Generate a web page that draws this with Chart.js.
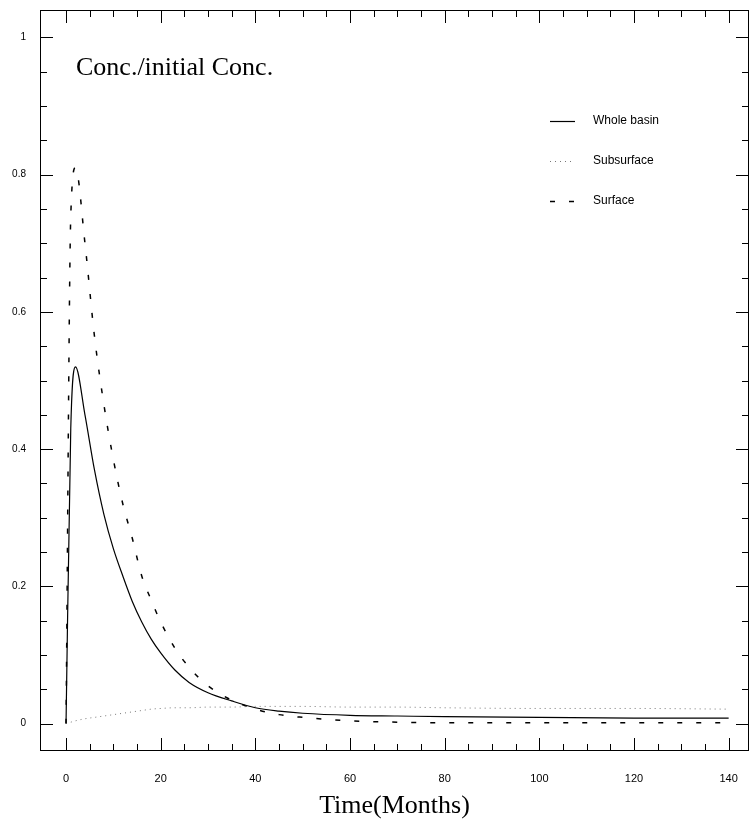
<!DOCTYPE html>
<html>
<head>
<meta charset="utf-8">
<title>Conc./initial Conc.</title>
<script src="https://cdn.jsdelivr.net/npm/chart.js@4.4.1/dist/chart.umd.min.js"></script>
<style>
    html, body { margin: 0; padding: 0; background: #fff; }
    #wrap { width: 750px; height: 824px; position: relative; }
</style>
</head>
<body>
<div id="wrap"><canvas id="concChart"></canvas></div>
<script>
const months = [0, 1, 2, 4, 6, 8, 10, 12, 14, 16, 18, 20, 23, 26, 30, 35, 40, 45, 50, 60, 70, 80, 100, 120, 140];

// Concentration / initial concentration
const wholeBasin = [0, 0.43, 0.52, 0.45, 0.37, 0.305, 0.255, 0.215, 0.178, 0.148, 0.123, 0.103, 0.078, 0.06, 0.045, 0.033, 0.023, 0.018, 0.015, 0.012, 0.011, 0.010, 0.009, 0.008, 0.008];
const subsurface = [0, 0.002, 0.004, 0.007, 0.009, 0.011, 0.013, 0.015, 0.017, 0.019, 0.021, 0.022, 0.023, 0.023, 0.024, 0.024, 0.025, 0.025, 0.025, 0.024, 0.024, 0.023, 0.022, 0.022, 0.021];
const surface = [0, 0.74, 0.81, 0.70, 0.565, 0.465, 0.385, 0.32, 0.27, 0.215, 0.18, 0.148, 0.11, 0.082, 0.055, 0.034, 0.021, 0.013, 0.009, 0.004, 0.002, 0.001, 0.001, 0.001, 0.001];

const seriesLabels = ['Whole basin', 'Subsurface', 'Surface'];

// Axis ticks
const xTicks = [0, 20, 40, 60, 80, 100, 120, 140];
const yTicks = [0, 0.2, 0.4, 0.6, 0.8, 1];

const plotTitle = 'Conc./initial Conc.';
const xTitle = 'Time(Months)';

function toPoints(values) {
    return months.map((m, i) => ({ x: m, y: values[i] }));
}

// Frame, inward ticks on all four sides, inner title and legend
const frameAndLegend = {
    id: 'frameAndLegend',
    afterDraw(chart) {
        const ctx = chart.ctx;
        const area = chart.chartArea;
        const xs = chart.scales.x;
        const ys = chart.scales.y;
        const major = 13, minor = 7;

        ctx.save();
        ctx.strokeStyle = '#000';
        ctx.lineWidth = 1;
        ctx.strokeRect(area.left + 0.5, area.top + 0.5, area.right - area.left - 1, area.bottom - area.top - 1);

        ctx.beginPath();
        for (let m = 0; m <= 140; m += 5) {
            const px = Math.round(xs.getPixelForValue(m)) + 0.5;
            const len = xTicks.includes(m) ? major : minor;
            ctx.moveTo(px, area.bottom);
            ctx.lineTo(px, area.bottom - len);
            ctx.moveTo(px, area.top);
            ctx.lineTo(px, area.top + len);
        }
        for (let k = 0; k <= 20; k++) {
            const v = k * 0.05;
            const py = Math.round(ys.getPixelForValue(v)) + 0.5;
            const len = (k % 4 === 0) ? major : minor;
            ctx.moveTo(area.left, py);
            ctx.lineTo(area.left + len, py);
            ctx.moveTo(area.right, py);
            ctx.lineTo(area.right - len, py);
        }
        ctx.stroke();

        // Inner title
        ctx.fillStyle = '#000';
        ctx.font = '26px "Liberation Serif", "Times New Roman", serif';
        ctx.textBaseline = 'alphabetic';
        ctx.textAlign = 'left';
        ctx.fillText(plotTitle, area.left + 36, area.top + 65);

        // Legend
        const lx = area.left + 510;
        const ly = area.top + 111;
        ctx.font = '12px "Liberation Sans", Arial, sans-serif';
        ctx.textBaseline = 'middle';
        chart.data.datasets.forEach((ds, i) => {
            const y = ly + i * 40;
            ctx.beginPath();
            ctx.strokeStyle = ds.borderColor;
            ctx.lineWidth = ds.borderWidth;
            ctx.setLineDash(ds.borderDash || []);
            ctx.moveTo(lx, y + 0.5);
            ctx.lineTo(lx + 25, y + 0.5);
            ctx.stroke();
            ctx.setLineDash([]);
            ctx.fillStyle = '#000';
            ctx.fillText(ds.label, lx + 43, y);
        });
        ctx.restore();
    }
};

function noEdgePadding(scale) {
    scale.paddingTop = 0;
    scale.paddingBottom = 0;
    scale.paddingLeft = 0;
    scale.paddingRight = 0;
}

const chart = new Chart(document.getElementById('concChart'), {
    type: 'line',
    data: {
        datasets: [
            {
                label: seriesLabels[0],
                data: toPoints(wholeBasin),
                borderColor: '#000',
                borderWidth: 1.2,
                pointRadius: 0,
                cubicInterpolationMode: 'monotone'
            },
            {
                label: seriesLabels[1],
                data: toPoints(subsurface),
                borderColor: '#777',
                borderWidth: 1,
                borderDash: [1, 4],
                pointRadius: 0,
                cubicInterpolationMode: 'monotone'
            },
            {
                label: seriesLabels[2],
                data: toPoints(surface),
                borderColor: '#000',
                borderWidth: 1.5,
                borderDash: [5, 14],
                pointRadius: 0,
                cubicInterpolationMode: 'monotone'
            }
        ]
    },
    options: {
        responsive: true,
        maintainAspectRatio: false,
        animation: false,
        events: [],
        layout: { padding: { top: 10, right: 1, left: 0, bottom: 0 } },
        plugins: {
            legend: { display: false },
            tooltip: { enabled: false }
        },
        scales: {
            x: {
                type: 'linear',
                min: -5.5,
                max: 144.3,
                grid: { display: false, drawTicks: false },
                border: { display: false },
                afterBuildTicks: (scale) => { scale.ticks = xTicks.map(v => ({ value: v })); },
                afterFit: (scale) => { scale.height = 73; noEdgePadding(scale); },
                ticks: {
                    padding: 21,
                    maxRotation: 0,
                    color: '#000',
                    font: { family: '"Liberation Sans", Arial, sans-serif', size: 11 },
                    callback: (v) => String(v)
                },
                title: {
                    display: true,
                    text: xTitle,
                    color: '#000',
                    font: { family: '"Liberation Serif", "Times New Roman", serif', size: 26 },
                    padding: { top: 0, bottom: 2 }
                }
            },
            y: {
                type: 'linear',
                min: -0.04,
                max: 1.04,
                grid: { display: false, drawTicks: false },
                border: { display: false },
                afterBuildTicks: (scale) => { scale.ticks = yTicks.map(v => ({ value: v })); },
                afterFit: (scale) => { scale.width = 40; noEdgePadding(scale); },
                ticks: {
                    padding: 14,
                    color: '#000',
                    font: { family: '"Liberation Sans", Arial, sans-serif', size: 10 },
                    callback: (v) => (v === 0 || v === 1) ? String(v) : v.toFixed(1)
                }
            }
        }
    },
    plugins: [frameAndLegend]
});
</script>
</body>
</html>
